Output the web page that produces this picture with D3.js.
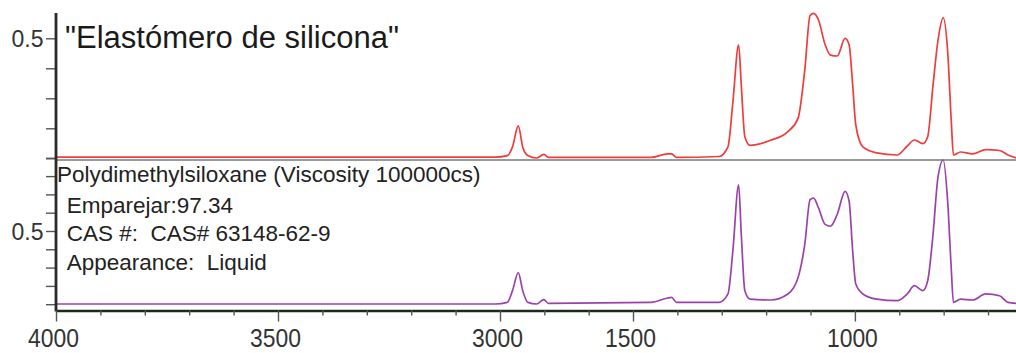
<!DOCTYPE html>
<html><head><meta charset="utf-8">
<script src="https://cdn.jsdelivr.net/npm/d3@7"></script>
<style>
html,body{margin:0;padding:0;background:#fff;}
svg{display:block;font-family:"Liberation Sans",Arial,Helvetica,sans-serif;}
</style></head><body>
<svg id="chart" width="1016" height="353"></svg>
<script>
// Wavenumber positions (axis units, cm-1 as labelled on the broken axis)
const wavenumbers = [4000,3010,2917,2859,2794,2744,2685,2589,2505,2454,
  1459,1422,1413,1402,1306,1286,1275,1262,1256,1248,
  1236,1190,1151,1128,1113,1101,1093,1082,1067,1055,
  1040,1022,1013,1005,998,982,951,905,882,866,
  847,836,824,813,801,791,783,778,762,735,
  705,674,655,637];
// Sample spectrum "Elastómero de silicona" (top, red)
const elastomer = [0.104,0.104,0.109,0.138,0.208,0.138,0.109,0.101,0.113,0.103,
  0.103,0.115,0.115,0.103,0.106,0.138,0.286,0.478,0.343,0.172,
  0.143,0.160,0.189,0.234,0.394,0.576,0.583,0.561,0.478,0.444,
  0.441,0.500,0.478,0.344,0.211,0.138,0.118,0.111,0.141,0.161,
  0.149,0.172,0.343,0.491,0.568,0.457,0.229,0.111,0.121,0.115,
  0.129,0.126,0.111,0.101];
// Library match: Polydimethylsiloxane (bottom, purple)
const pdms = [0.101,0.101,0.110,0.174,0.273,0.174,0.110,0.101,0.125,0.105,
  0.110,0.134,0.137,0.110,0.110,0.156,0.391,0.752,0.481,0.174,
  0.128,0.123,0.156,0.246,0.427,0.671,0.680,0.626,0.536,0.526,
  0.590,0.716,0.662,0.391,0.210,0.156,0.128,0.119,0.156,0.201,
  0.174,0.228,0.481,0.790,0.888,0.662,0.300,0.110,0.128,0.123,
  0.156,0.146,0.110,0.105];

const xMajorTicks = [4000,3500,3000,1500,1000];
const xMinorTicks = [3900,3800,3700,3600,3400,3300,3200,3100,2500,2000,1400,1300,1200,1100,900,800,700];
const yTicksTop = [0.1,0.2,0.3,0.4,0.5];
const yTicksBottom = [0.1,0.2,0.3,0.4,0.5,0.6,0.7,0.8,0.9];
const yLabelled = [0.5];
const title = '"Elastómero de silicona"';
const libraryLines = ["Polydimethylsiloxane (Viscosity 100000cs)","Emparejar:97.34","CAS #:  CAS# 63148-62-9","Appearance:  Liquid"];

const svg = d3.select("#chart");
const x = d3.scaleLinear().domain([4000,3000,1500,637]).range([56,500,633,1016]);
const yTop = d3.scaleLinear().domain([0.1,0.5]).range([158.3,38.3]);
const yBot = d3.scaleLinear().domain([0.1,0.5]).range([304.2,231]);

// panel divider
svg.append("line").attr("x1",x(4000)).attr("x2",1016).attr("y1",160).attr("y2",160)
  .attr("stroke","#9a9a9a").attr("stroke-width",2);

const lineTop = d3.line().x((d,i)=>x(wavenumbers[i])).y(d=>yTop(d)).curve(d3.curveMonotoneX);
const lineBot = d3.line().x((d,i)=>x(wavenumbers[i])).y(d=>yBot(d)).curve(d3.curveMonotoneX);

svg.append("path").attr("d",lineTop(elastomer)).attr("fill","none")
  .attr("stroke","#f03c3c").attr("stroke-width",1.7).attr("stroke-linejoin","round");
svg.append("path").attr("d",lineBot(pdms)).attr("fill","none")
  .attr("stroke","#9a42aa").attr("stroke-width",1.7).attr("stroke-linejoin","round");

// left axes
function styleY(g){
  g.select(".domain").remove();
  g.selectAll(".tick line").attr("stroke","#555").attr("stroke-width",1.4);
  g.selectAll(".tick text").attr("x",-12.5).attr("dy","0.37em")
    .style("font-size","23px").attr("fill","#333");
}
svg.append("g").attr("transform","translate(56,0)")
  .call(d3.axisLeft(yTop).tickValues(yTicksTop).tickSize(10)
    .tickFormat(d=>yLabelled.includes(d)?d3.format(".1f")(d):""))
  .call(styleY);
svg.append("g").attr("transform","translate(56,0)")
  .call(d3.axisLeft(yBot).tickValues(yTicksBottom).tickSize(10)
    .tickFormat(d=>yLabelled.includes(d)?d3.format(".1f")(d):""))
  .call(styleY);
svg.append("line").attr("x1",56).attr("x2",56).attr("y1",13).attr("y2",311.5)
  .attr("stroke","#2a2a2a").attr("stroke-width",2.8);

// bottom axis
const gx = svg.append("g").attr("transform","translate(0,310.5)")
  .call(d3.axisBottom(x).tickValues(xMajorTicks).tickSize(11).tickSizeOuter(0).tickFormat(d3.format("d")));
gx.select(".domain").attr("stroke","#1c2a1c").attr("stroke-width",2.5);
gx.selectAll(".tick line").attr("stroke","#555").attr("stroke-width",1.4);
gx.selectAll(".tick text").attr("y",0).attr("dy",null)
  .attr("transform","translate(-3,36.5) scale(0.88,1)")
  .style("font-size","26px").attr("fill","#333");
const gm = svg.append("g").attr("transform","translate(0,310.5)")
  .call(d3.axisBottom(x).tickValues(xMinorTicks).tickSize(5).tickFormat(""));
gm.select(".domain").remove();
gm.selectAll(".tick line").attr("stroke","#555").attr("stroke-width",1.4);

// texts
svg.append("text").attr("x",65).attr("y",48).text(title)
  .style("font-size","31px").attr("fill","#1a1a1a");
const linePos = [[57,182],[66.7,213],[66.7,241],[66.7,270]];
svg.selectAll("text.lib").data(libraryLines).join("text").attr("class","lib")
  .attr("x",(d,i)=>linePos[i][0]).attr("y",(d,i)=>linePos[i][1])
  .style("font-size","22.5px").style("white-space","pre").attr("xml:space","preserve")
  .attr("fill","#222").text(d=>d);
</script>
</body></html>
